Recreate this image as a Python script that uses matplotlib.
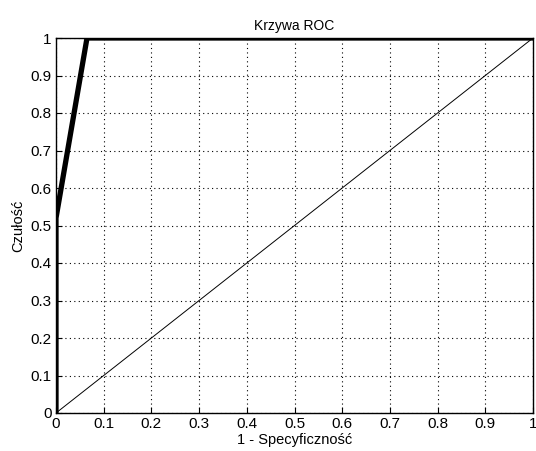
import matplotlib
matplotlib.use("Agg")
import matplotlib.pyplot as plt

roc_fpr = [0.0, 0.0, 0.065, 1.0]
roc_tpr = [0.0, 0.52, 1.0, 1.0]
diag_x = [0.0, 1.0]
diag_y = [0.0, 1.0]
ticks = [0, 0.1, 0.2, 0.3, 0.4, 0.5, 0.6, 0.7, 0.8, 0.9, 1]
tick_labels = ["0", "0.1", "0.2", "0.3", "0.4", "0.5", "0.6", "0.7", "0.8", "0.9", "1"]

plt.rcParams['font.family'] = ['Liberation Sans', 'DejaVu Sans']
fig = plt.figure(figsize=(5.36, 4.51), dpi=100, facecolor='white')
ax = fig.add_axes([56/536, 38/451, (533-56)/536, (413-38)/451])

ax.plot(diag_x, diag_y, color='black', linewidth=0.7)
ax.plot(roc_fpr, roc_tpr, color='black', linewidth=3.8, solid_capstyle='butt')

ax.set_xlim(0, 1)
ax.set_ylim(0, 1)
ax.set_xticks(ticks)
ax.set_xticklabels(tick_labels)
ax.set_yticks(ticks)
ax.set_yticklabels(tick_labels)
ax.tick_params(direction='in', length=4, labelsize=11, colors='black', pad=3)
ax.grid(True, linestyle=(0, (1, 3)), color='black', linewidth=0.8)
for s in ax.spines.values():
    s.set_linewidth(1.0)
    s.set_color('black')

ax.set_title("Krzywa ROC", fontsize=10, pad=6)
ax.set_xlabel("1 - Specyficzność", fontsize=10.5, labelpad=1)
ax.set_ylabel("Czułość", fontsize=10.5, labelpad=4)

fig.savefig("out.png", dpi=100, facecolor='white')
